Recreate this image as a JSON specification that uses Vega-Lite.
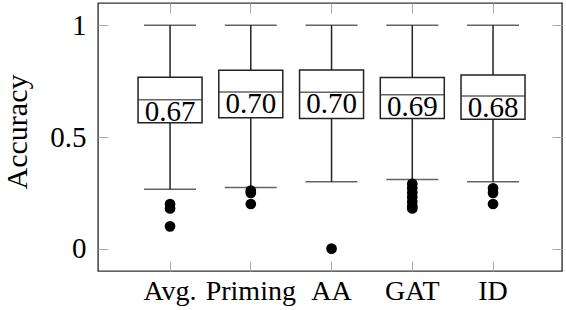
{
  "$schema": "https://vega.github.io/schema/vega-lite/v6.json",
  "width": 464,
  "height": 268,
  "autosize": {"type": "none"},
  "padding": {"left": 98, "top": 3, "right": 4, "bottom": 39},
  "config": {
    "view": {"stroke": "#333", "strokeWidth": 1.4},
    "font": "Liberation Serif, Times New Roman, serif",
    "text": {"font": "Liberation Serif, Times New Roman, serif"},
    "axis": {"grid": false, "domain": false, "labelColor": "black", "labelFont": "Liberation Serif, Times New Roman, serif", "labelFontSize": 28, "tickColor": "#aaa", "tickSize": -10, "tickWidth": 1, "titleFont": "Liberation Serif, Times New Roman, serif", "titleFontWeight": "normal", "titleColor": "black", "titleFontSize": 30}
  },
  "datasets": {
    "stats": [
      {"method": "Avg.", "max": 1, "q3": 0.768, "median": 0.667, "q1": 0.564, "min": 0.266, "label": "0.67"},
      {"method": "Priming", "max": 1, "q3": 0.799, "median": 0.702, "q1": 0.586, "min": 0.274, "label": "0.70"},
      {"method": "AA", "max": 1, "q3": 0.8, "median": 0.7, "q1": 0.583, "min": 0.3, "label": "0.70"},
      {"method": "GAT", "max": 1, "q3": 0.766, "median": 0.689, "q1": 0.583, "min": 0.31, "label": "0.69"},
      {"method": "ID", "max": 1, "q3": 0.778, "median": 0.684, "q1": 0.579, "min": 0.3, "label": "0.68"}
    ],
    "outliers": [
      {"method": "Avg.", "value": 0.2},
      {"method": "Avg.", "value": 0.18},
      {"method": "Avg.", "value": 0.1},
      {"method": "Priming", "value": 0.26},
      {"method": "Priming", "value": 0.25},
      {"method": "Priming", "value": 0.2},
      {"method": "AA", "value": 0.0},
      {"method": "GAT", "value": 0.29},
      {"method": "GAT", "value": 0.27},
      {"method": "GAT", "value": 0.25},
      {"method": "GAT", "value": 0.23},
      {"method": "GAT", "value": 0.21},
      {"method": "GAT", "value": 0.19},
      {"method": "GAT", "value": 0.18},
      {"method": "ID", "value": 0.27},
      {"method": "ID", "value": 0.25},
      {"method": "ID", "value": 0.2}
    ]
  },
  "encoding": {
    "x": {"field": "method", "type": "nominal", "title": null,
      "scale": {"domain": ["Avg.", "Priming", "AA", "GAT", "ID"], "paddingInner": 0.2074, "paddingOuter": 0.477, "align": 0.52},
      "axis": {"orient": "bottom", "labelAngle": 0, "labelPadding": 16, "labelBaseline": "top", "labelFontSize": 28}}
  },
  "resolve": {"axis": {"x": "independent", "y": "independent"}},
  "layer": [
    {
      "layer": [
        {
          "data": {"name": "stats"},
          "mark": {"type": "rule", "color": "#222", "strokeWidth": 1.5},
          "encoding": {
            "y": {"field": "min", "type": "quantitative", "title": "Accuracy", "scale": {"domain": [-0.1, 1.1], "nice": false, "zero": false},
              "axis": {"orient": "left", "values": [0, 0.5, 1], "labelExpr": "'' + datum.value", "labelPadding": 22, "titlePadding": 17, "titleY": 128.5, "labelFontSize": 29}},
            "y2": {"field": "max"}
          }
        },
        {
          "data": {"name": "stats"},
          "mark": {"type": "tick", "color": "#222", "size": 52, "thickness": 1.5},
          "encoding": {"y": {"field": "max", "type": "quantitative", "title": "Accuracy", "scale": {"domain": [-0.1, 1.1], "nice": false, "zero": false}}}
        },
        {
          "data": {"name": "stats"},
          "mark": {"type": "tick", "color": "#222", "size": 52, "thickness": 1.5},
          "encoding": {"y": {"field": "min", "type": "quantitative", "title": "Accuracy", "scale": {"domain": [-0.1, 1.1], "nice": false, "zero": false}}}
        },
        {
          "data": {"name": "stats"},
          "mark": {"type": "bar", "fill": "white", "stroke": "#222", "strokeWidth": 1.5},
          "encoding": {
            "y": {"field": "q1", "type": "quantitative", "title": "Accuracy", "scale": {"domain": [-0.1, 1.1], "nice": false, "zero": false}},
            "y2": {"field": "q3"}
          }
        },
        {
          "data": {"name": "stats"},
          "mark": {"type": "tick", "color": "#222", "size": 64, "thickness": 1.5},
          "encoding": {"y": {"field": "median", "type": "quantitative", "title": "Accuracy", "scale": {"domain": [-0.1, 1.1], "nice": false, "zero": false}}}
        },
        {
          "data": {"name": "stats"},
          "mark": {"type": "text", "baseline": "top", "align": "center", "fontSize": 29, "dy": -2, "color": "black"},
          "encoding": {
            "y": {"field": "median", "type": "quantitative", "title": "Accuracy", "scale": {"domain": [-0.1, 1.1], "nice": false, "zero": false}},
            "text": {"field": "label"}
          }
        },
        {
          "data": {"name": "outliers"},
          "mark": {"type": "point", "filled": true, "shape": "circle", "size": 115, "color": "black", "opacity": 1},
          "encoding": {"y": {"field": "value", "type": "quantitative", "title": "Accuracy", "scale": {"domain": [-0.1, 1.1], "nice": false, "zero": false}}}
        }
      ]
    },
    {
      "data": {"name": "stats"},
      "mark": {"type": "tick", "opacity": 0},
      "encoding": {
        "x": {"field": "method", "type": "nominal", "title": null,
          "scale": {"domain": ["Avg.", "Priming", "AA", "GAT", "ID"], "paddingInner": 0.2074, "paddingOuter": 0.477, "align": 0.52},
          "axis": {"orient": "top", "labels": false}},
        "y": {"field": "median", "type": "quantitative", "title": null, "scale": {"domain": [-0.1, 1.1], "nice": false, "zero": false},
          "axis": {"orient": "right", "values": [0, 0.5, 1], "labels": false}}
      }
    }
  ]
}
